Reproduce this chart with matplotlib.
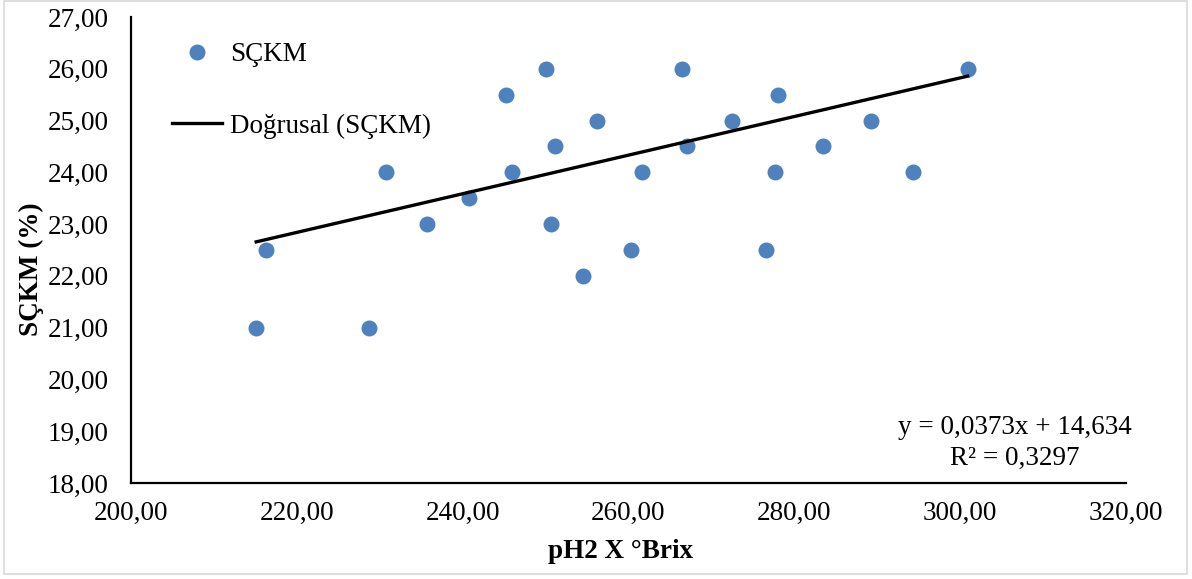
import matplotlib
matplotlib.use("Agg")
import matplotlib.pyplot as plt
from matplotlib.patches import Rectangle

plt.rcParams['font.family'] = ['Liberation Serif', 'DejaVu Serif']

# pH2 x °Brix against SÇKM (%)
ph_brix = [215.1, 216.3, 228.7, 230.7, 235.7, 240.8, 245.2, 245.9, 250.1, 250.6,
           251.1, 254.5, 256.2, 260.3, 261.6, 266.5, 267.0, 272.5, 276.6, 277.7,
           278.0, 283.5, 289.3, 294.3, 300.9]
sckm = [21.0, 22.5, 21.0, 24.0, 23.0, 23.5, 25.5, 24.0, 26.0, 23.0,
        24.5, 22.0, 25.0, 22.5, 24.0, 26.0, 24.5, 25.0, 22.5, 24.0,
        25.5, 24.5, 25.0, 24.0, 26.0]

# linear trend (Doğrusal)
slope = 0.0373
intercept = 14.634
r_squared = 0.3297

x_ticks = [200, 220, 240, 260, 280, 300, 320]
y_ticks = [18, 19, 20, 21, 22, 23, 24, 25, 26, 27]

FS = 19.5

def comma(v):
    return f"{v:.2f}".replace('.', ',')

fig = plt.figure(figsize=(11.92, 5.79), dpi=100)
ax = fig.add_axes([131/1192, 1 - 483/579, (1126 - 131)/1192, (483 - 17)/579])

ax.plot(ph_brix, sckm, linestyle='none', marker='o', markersize=11.5,
        color='#4F81BD', markeredgewidth=0, label='SÇKM', zorder=3)

x0, x1 = min(ph_brix), max(ph_brix)
ax.plot([x0, x1], [slope * x0 + intercept, slope * x1 + intercept],
        color='black', linewidth=2.4, label='Doğrusal (SÇKM)', zorder=4)

ax.set_xlim(200, 320)
ax.set_ylim(18, 27)
ax.set_xticks(x_ticks)
ax.set_yticks(y_ticks)
ax.set_xticklabels([comma(v) for v in x_ticks])
ax.set_yticklabels([comma(v) for v in y_ticks])
ax.tick_params(axis='both', length=0, labelsize=FS)
ax.tick_params(axis='y', pad=16)
ax.tick_params(axis='x', pad=13)

for side in ('top', 'right'):
    ax.spines[side].set_visible(False)
for side in ('left', 'bottom'):
    ax.spines[side].set_linewidth(1.6)
    ax.spines[side].set_color('black')

ax.set_xlabel('pH2 X °Brix', fontsize=FS, fontweight='bold')
ax.set_ylabel('SÇKM (%)', fontsize=FS, fontweight='bold')
ax.xaxis.set_label_coords(0.492, -0.121)
ax.yaxis.set_label_coords(-0.087, 0.459)

eq = f"y = {str(slope).replace('.', ',')}x + {str(intercept).replace('.', ',')}\n" \
     f"R² = {str(r_squared).replace('.', ',')}"
ax.text(0.888, 0.086, eq, transform=ax.transAxes, ha='center', va='center',
        multialignment='center', fontsize=FS, linespacing=1.3)

leg = ax.legend(loc='upper left', bbox_to_anchor=(172/1192, 1 - 42/579),
                bbox_transform=fig.transFigure, frameon=False, fontsize=FS,
                handlelength=1.85, handletextpad=0.28, labelspacing=1.72,
                borderpad=0, borderaxespad=0, numpoints=1)

# chart-area border
fig.patches.append(Rectangle((4/1192, 1 - 574/579), (1187 - 4)/1192, (574 - 1)/579,
                             transform=fig.transFigure, fill=False,
                             edgecolor='#d9d9d9', linewidth=1.2))

fig.savefig('out.png', dpi=100)
